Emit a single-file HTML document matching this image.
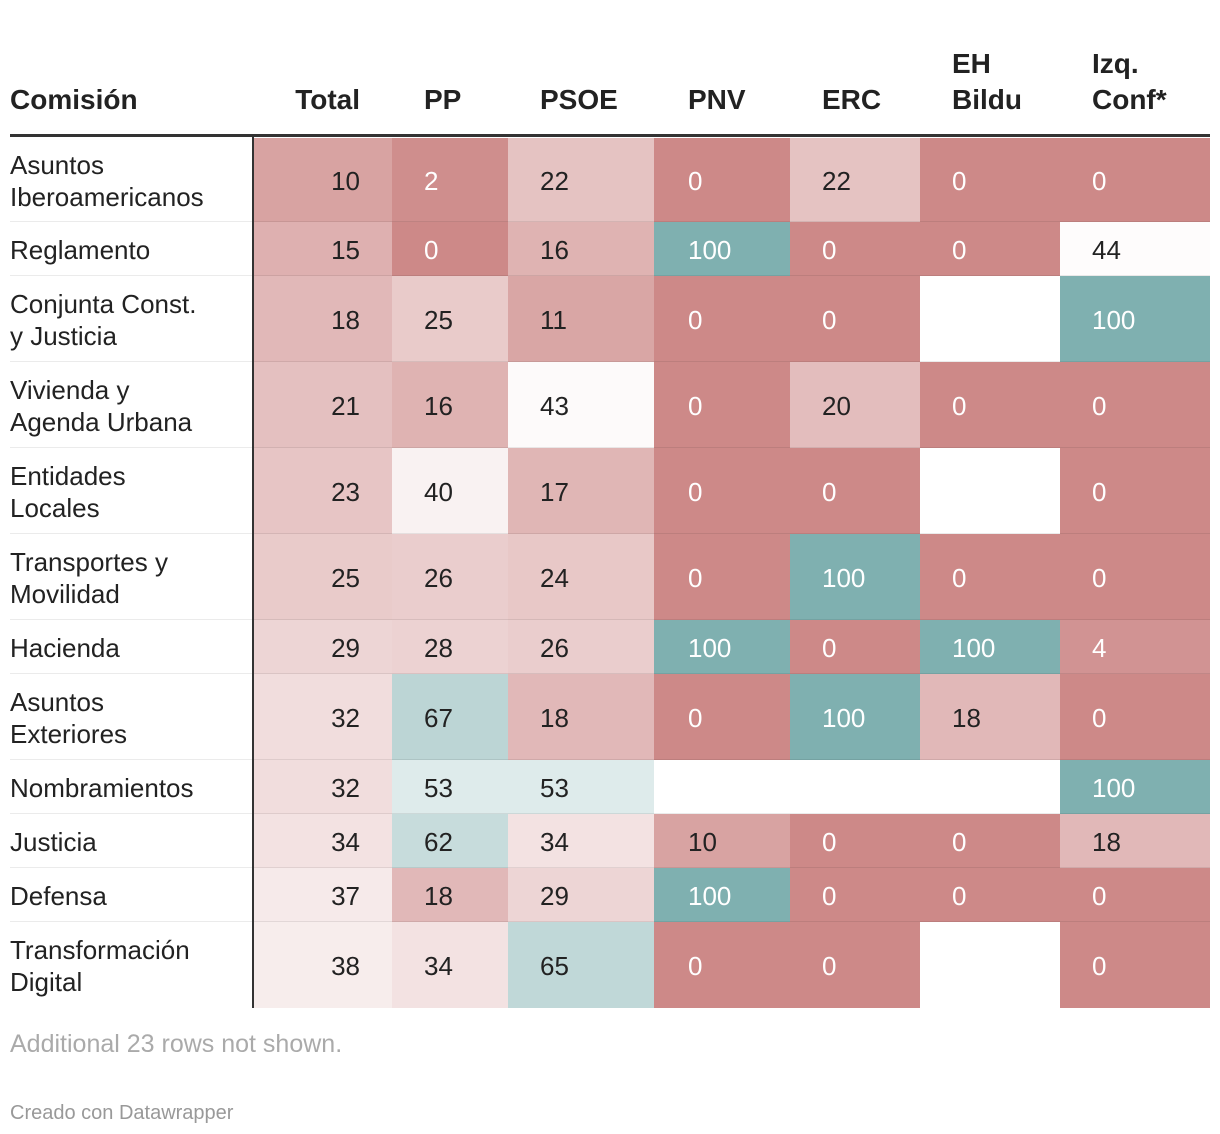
<!DOCTYPE html>
<html><head><meta charset="utf-8"><style>
body{margin:0;background:#fff;width:1220px;height:1134px;overflow:hidden;font-family:"Liberation Sans",sans-serif;position:relative}
.h{position:absolute;font-weight:bold;font-size:28px;color:#222;line-height:36px}
.c{position:absolute;box-sizing:border-box}
.t{position:absolute;font-size:26px;line-height:32px}
.lbl{position:absolute;left:10px;font-size:26px;line-height:32px;color:#222}
.sep{position:absolute;left:10px;width:1200px;height:1px;background:rgba(0,0,0,0.08)}
</style></head><body>
<div id="root"></div>
<script>
const rows=["Asuntos<br>Iberoamericanos","Reglamento","Conjunta Const.<br>y Justicia","Vivienda y<br>Agenda Urbana","Entidades<br>Locales","Transportes y<br>Movilidad","Hacienda","Asuntos<br>Exteriores","Nombramientos","Justicia","Defensa","Transformación<br>Digital"];
const colNames=["Total","PP","PSOE","PNV","ERC","EH<br>Bildu","Izq.<br>Conf*"];
const total=[10,15,18,21,23,25,29,32,32,34,37,38];
const pp=[2,0,25,16,40,26,28,67,53,62,18,34];
const psoe=[22,16,11,43,17,24,26,18,53,34,29,65];
const pnv=[0,100,0,0,0,0,100,0,null,10,100,0];
const erc=[22,0,0,20,0,100,0,100,null,0,0,0];
const bildu=[0,0,null,0,null,0,100,18,null,0,0,null];
const izq=[0,44,100,0,0,0,4,0,100,18,0,0];
const series=[total,pp,psoe,pnv,erc,bildu,izq];
const colX=[252,392,508,654,790,920,1060,1210];
const rowY=[138,222,276,362,448,534,620,674,760,814,868,922,1008];
const red=[205,137,136],wh=[255,255,255],teal=[127,176,176],mid=45;
function color(v){let a,b,t;if(v<mid){a=red;b=wh;t=v/mid}else{a=wh;b=teal;t=Math.pow((v-mid)/(100-mid),0.7)}
return 'rgb('+a.map((x,i)=>Math.round(x+(b[i]-x)*t)).join(',')+')'}
const root=document.getElementById('root');
function add(cls,style,html){const d=document.createElement('div');d.className=cls;d.style.cssText=style;if(html!=null)d.innerHTML=html;root.appendChild(d);return d}
const valX=[0,424,540,688,822,952,1092];
let h=add('h','left:10px;top:82px','Comisión');


colNames.forEach((n,j)=>{const two=n.includes('<br>');let st=j==0?'right:'+(1220-360)+'px;':'left:'+valX[j]+'px;';
const e=add('h',st+'top:'+(two?46:82)+'px',n);

});
add('c','left:10px;top:134px;width:1200px;height:3px;background:#333');
rows.forEach((r,i)=>{const y0=rowY[i],y1=rowY[i+1],two=r.includes('<br>');
const l=add('lbl','top:'+((y0+y1)/2-(two?32:16)+1)+'px',r);


series.forEach((s,j)=>{const v=s[i];const bg=v==null?'#fff':color(v);
const c=add('c','left:'+colX[j]+'px;top:'+y0+'px;width:'+(colX[j+1]-colX[j])+'px;height:'+(y1-y0)+'px;background:'+bg);


if(v!=null){const col=(v<=5||v>=90)?'#fff':'#222';
const st=j==0?'right:'+(1220-360)+'px;':'left:'+valX[j]+'px;';
const t=add('t',st+'top:'+((y0+y1)/2-15)+'px;color:'+col,String(v));

}});
if(i>0)add('sep','top:'+(y0-1)+'px');});
add('c','left:252px;top:137px;width:2px;height:871px;background:#333');
const f=add('lbl','top:1028px;color:#aaa;font-size:25px','Additional 23 rows not shown.');


const cr=add('lbl','top:1097px;color:#999;font-size:20px','Creado con Datawrapper');


</script>
</body></html>
